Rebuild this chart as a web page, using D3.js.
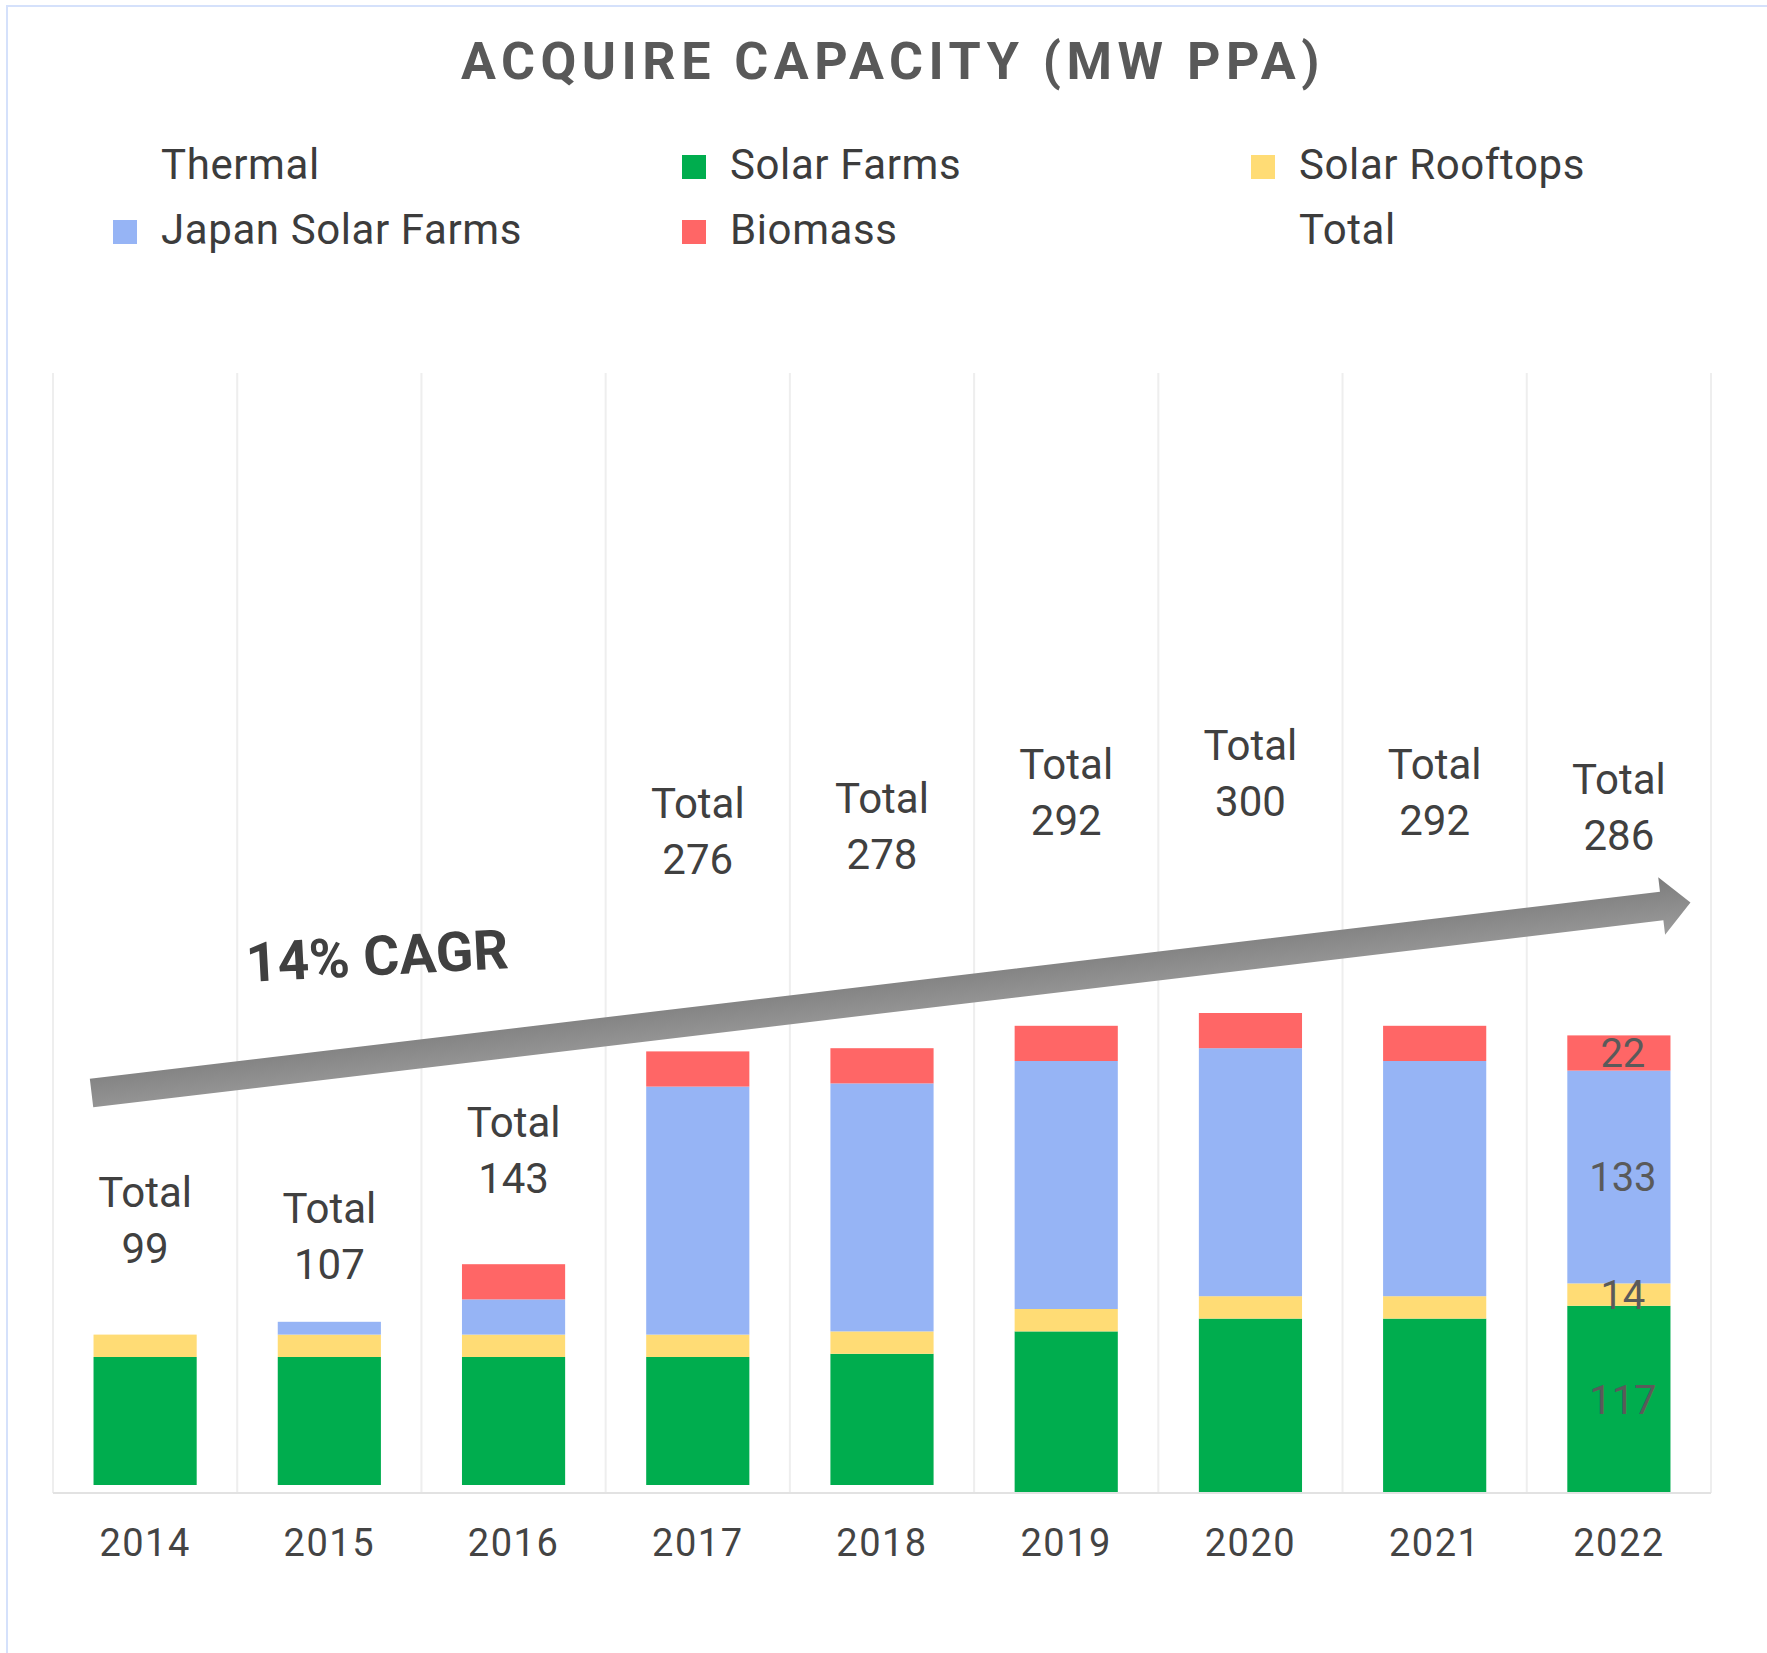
<!DOCTYPE html>
<html>
<head>
<meta charset="utf-8">
<script src="https://cdn.jsdelivr.net/npm/d3@7"></script>
<style>
  body { margin: 0; background: #fff; }
  svg text { font-family: Roboto, "Noto Sans", sans-serif; }
</style>
</head>
<body>
<svg id="chart"></svg>
<script>
const years = ['2014', '2015', '2016', '2017', '2018', '2019', '2020', '2021', '2022']
const thermal = [5, 5, 5, 5, 5, 0, 0, 0, 0]
const solarFarms = [80, 80, 80, 80, 82, 101, 109, 109, 117]
const solarRooftops = [14, 14, 14, 14, 14, 14, 14, 14, 14]
const japanSolarFarms = [0, 8, 22, 155, 155, 155, 155, 147, 133]
const biomass = [0, 0, 22, 22, 22, 22, 22, 22, 22]
const totals = [99, 107, 143, 276, 278, 292, 300, 292, 286]

const seriesNames = ['Thermal', 'Solar Farms', 'Solar Rooftops', 'Japan Solar Farms', 'Biomass']
const legendNames = ['Thermal', 'Solar Farms', 'Solar Rooftops', 'Japan Solar Farms', 'Biomass', 'Total']
const cagrLabel = '14% CAGR'

drawChart()

function drawChart() {

    const width = 1767
    const height = 1653
    const colors = {
        'Thermal': 'none',
        'Solar Farms': '#00ad4e',
        'Solar Rooftops': '#ffdc75',
        'Japan Solar Farms': '#96b4f5',
        'Biomass': '#ff6666',
        'Total': 'none'
    }

    const rows = years.map((year, i) => ({
        year,
        'Thermal': thermal[i],
        'Solar Farms': solarFarms[i],
        'Solar Rooftops': solarRooftops[i],
        'Japan Solar Farms': japanSolarFarms[i],
        'Biomass': biomass[i],
        total: totals[i]
    }))

    const svg = d3.select('#chart')
        .attr('width', width)
        .attr('height', height)

    // frame, only top and left edges fall inside the picture
    svg.append('rect')
        .attr('x', 7).attr('y', 6)
        .attr('width', width).attr('height', height)
        .style('fill', '#fff')
        .style('stroke', '#d5e1fb')
        .style('stroke-width', 2)

    const x = d3.scaleBand()
        .domain(years)
        .range([53, 1711])
        .paddingInner(0.44)
        .paddingOuter(0.22)

    const y = d3.scaleLinear()
        .domain([0, 700])
        .range([1493, 373])

    // vertical gridlines between categories
    const step = x.step()
    const gridX = d3.range(years.length + 1).map(i => x.range()[0] + i * step)
    svg.append('g')
        .selectAll('line')
        .data(gridX)
        .join('line')
        .attr('x1', d => d).attr('x2', d => d)
        .attr('y1', y.range()[1]).attr('y2', y(0))
        .style('stroke', '#eeeeee')
        .style('stroke-width', 2)

    // stacked bars
    const stack = d3.stack().keys(seriesNames)
    const layers = stack(rows)

    svg.append('g')
        .selectAll('g')
        .data(layers)
        .join('g')
        .style('fill', d => colors[d.key])
        .selectAll('rect')
        .data(d => d)
        .join('rect')
        .attr('x', d => x(d.data.year))
        .attr('width', x.bandwidth())
        .attr('y', d => y(d[1]))
        .attr('height', d => y(d[0]) - y(d[1]))

    // baseline
    svg.append('line')
        .attr('x1', x.range()[0]).attr('x2', x.range()[1])
        .attr('y1', y(0)).attr('y2', y(0))
        .style('stroke', '#e2e2e2')
        .style('stroke-width', 2)

    // x axis
    const axis = svg.append('g')
        .attr('transform', `translate(0,${y(0)})`)
        .call(d3.axisBottom(x).tickSize(0).tickPadding(36))
    axis.select('.domain').remove()
    axis.selectAll('text')
        .style('font-family', 'Roboto')
        .style('font-size', '38px')
        .style('letter-spacing', '1.5px')
        .style('fill', '#444')

    // value labels inside the last bar
    const last = years.length - 1
    svg.append('g')
        .selectAll('text')
        .data(layers.filter(l => l[last][1] - l[last][0] > 0 && colors[l.key] !== 'none'))
        .join('text')
        .attr('x', d => x(years[last]) + x.bandwidth() / 2 + 4)
        .attr('y', d => y((d[last][0] + d[last][1]) / 2))
        .attr('dy', '0.36em')
        .attr('text-anchor', 'middle')
        .style('font-size', '40px')
        .style('fill', '#5a5a5a')
        .text(d => d[last][1] - d[last][0])

    // "Total" labels, centred on an invisible total segment stacked on top
    const totalLabelShift = { '2014': -35 }
    const totalG = svg.append('g')
        .selectAll('g')
        .data(rows)
        .join('g')
        .attr('transform', d => {
            const cy = y(d.total * 1.5) + (totalLabelShift[d.year] || 0)
            return `translate(${x(d.year) + x.bandwidth() / 2},${cy})`
        })
    totalG.append('text')
        .attr('y', -13)
        .attr('text-anchor', 'middle')
        .style('font-size', '42px')
        .style('fill', '#404040')
        .text('Total')
    totalG.append('text')
        .attr('y', 43)
        .attr('text-anchor', 'middle')
        .style('font-size', '42px')
        .style('fill', '#404040')
        .text(d => d.total)

    // CAGR arrow
    const defs = svg.append('defs')
    const grad = defs.append('linearGradient')
        .attr('id', 'arrowGrad')
        .attr('x1', 0).attr('y1', 0).attr('x2', 0).attr('y2', 1)
    grad.append('stop').attr('offset', '0%').attr('stop-color', '#7c7c7c')
    grad.append('stop').attr('offset', '100%').attr('stop-color', '#9c9c9c')

    const x0 = x(years[0]) - 2
    const y0 = y(250)
    const x1 = x(years[last]) + x.bandwidth() + 20
    const y1 = y(369)
    const len = Math.hypot(x1 - x0, y1 - y0)
    const angle = Math.atan2(y1 - y0, x1 - x0) * 180 / Math.PI
    const shaft = 14.4
    const head = 29
    const headLen = 29
    const arrowPts = [
        [0, -shaft], [len - headLen, -shaft], [len - headLen, -head], [len, 0],
        [len - headLen, head], [len - headLen, shaft], [0, shaft]
    ]
    svg.append('polygon')
        .attr('transform', `translate(${x0},${y0}) rotate(${angle})`)
        .attr('points', arrowPts.map(p => p.join(',')).join(' '))
        .style('fill', 'url(#arrowGrad)')

    svg.append('text')
        .attr('transform', 'translate(247,982) rotate(-3)')
        .style('font-size', '55px')
        .style('font-weight', 700)
        .style('fill', '#404040')
        .text(cagrLabel)

    // title
    svg.append('text')
        .attr('x', 893)
        .attr('y', 79)
        .attr('text-anchor', 'middle')
        .style('font-size', '52px')
        .style('font-weight', 700)
        .style('letter-spacing', '5.5px')
        .style('fill', '#595959')
        .text('ACQUIRE CAPACITY (MW PPA)')

    // legend, three columns, two rows
    const legendCols = [113, 682, 1251]
    const legendRows = [155, 220]
    const legend = svg.append('g')
        .selectAll('g')
        .data(legendNames)
        .join('g')
        .attr('transform', (d, i) => `translate(${legendCols[i % 3]},${legendRows[Math.floor(i / 3)]})`)
    legend.append('rect')
        .attr('width', 24)
        .attr('height', 24)
        .style('fill', d => colors[d])
    legend.append('text')
        .attr('x', 48)
        .attr('y', 24)
        .style('font-size', '42px')
        .style('letter-spacing', '0.6px')
        .style('fill', '#3c3c3c')
        .text(d => d)
}
</script>
</body>
</html>
